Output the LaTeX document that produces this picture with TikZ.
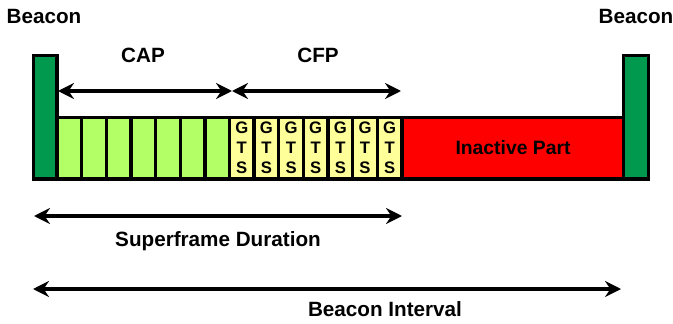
\documentclass[tikz,border=0pt]{standalone}
\usepackage{fontspec}
\setmainfont{Liberation Sans}
\usepackage{tikz}
\usetikzlibrary{arrows.meta}
\definecolor{bcngreen}{HTML}{00994D}
\definecolor{capgreen}{HTML}{B3FF66}
\definecolor{gtsyellow}{HTML}{FFFF99}
\definecolor{inactred}{HTML}{FF0000}
\tikzset{
  slotbox/.style={draw=black,line width=2.5pt},
  dimarrow/.style={line width=2.4pt,
    {Stealth[length=12pt,width=12pt,inset=4pt]}-{Stealth[length=12pt,width=12pt,inset=4pt]}},
  lbl/.style={font=\fontsize{15.5}{18}\selectfont\bfseries,inner sep=0pt},
  gtslbl/.style={font=\fontsize{12.5}{15}\selectfont\bfseries,align=center,inner sep=0pt},
}

\begin{document}
\begin{tikzpicture}[x=0.75pt,y=-0.75pt]
  \useasboundingbox (0,0) rectangle (673,324);
  % beacons
  \draw[slotbox,fill=bcngreen] (33.5,55.5) rectangle (57,179);
  \draw[slotbox,fill=bcngreen] (623.5,55.5) rectangle (648.5,179);
  % CAP slots
  \foreach \i in {0,...,6}
    \draw[slotbox,fill=capgreen] ({57+24.64*\i},117.5) rectangle ({57+24.64*(\i+1)},179);
  % GTS slots
  \foreach \i in {7,...,13} {
    \draw[slotbox,fill=gtsyellow] ({57+24.64*\i},117.5) rectangle ({57+24.64*(\i+1)},179);
    \node[gtslbl] (gts\i) at ({57+24.64*(\i+0.5)},148) {G\\T\\S};
  }
  % inactive part
  \draw[slotbox,fill=inactred] (402,117.5) rectangle (623.5,179);
  \node[lbl,font=\fontsize{14.5}{17}\selectfont\bfseries] (inact) at (513,148) {Inactive Part};

  \node[lbl] (bcnL) at (44,16) {Beacon};
  \node[lbl] (bcnR) at (636,16) {Beacon};
  \node[lbl] (cap) at (143,55) {CAP};
  \node[lbl] (cfp) at (318,55) {CFP};
  \node[lbl] (sfd) at (218,241) {Superframe Duration};
  \node[lbl] (bi) at (385,309) {Beacon Interval};

  \coordinate (capL) at (58,91);
  \coordinate (capR) at (232,91);
  \coordinate (cfpR) at (401,91);
  \coordinate (sfdL) at (34,216);
  \coordinate (sfdR) at (402,216);
  \coordinate (biL) at (33,289);
  \coordinate (biR) at (621,289);
  \draw[dimarrow] (capL) -- (capR);
  \draw[dimarrow] (capR) -- (cfpR);
  \draw[dimarrow] (sfdL) -- (sfdR);
  \draw[dimarrow] (biL) -- (biR);
\end{tikzpicture}
\end{document}
